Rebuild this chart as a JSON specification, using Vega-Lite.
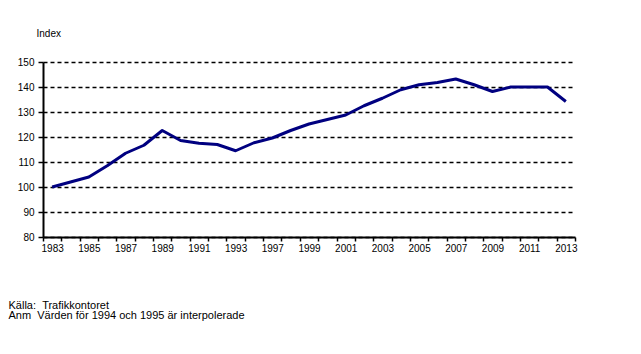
{
  "$schema": "https://vega.github.io/schema/vega-lite/v6.json",
  "width": 532,
  "height": 175,
  "autosize": "none",
  "padding": {"left": 43, "top": 62, "right": 66, "bottom": 117},
  "background": "white",
  "config": {
    "view": {"stroke": null},
    "font": "Liberation Sans",
    "axis": {"labelFont": "Liberation Sans", "titleFont": "Liberation Sans", "labelColor": "black", "titleColor": "black"}
  },
  "data": {
    "values": [
      {"year": "1983", "index": 100},
      {"year": "1984", "index": 102},
      {"year": "1985", "index": 104},
      {"year": "1986", "index": 108.5},
      {"year": "1987", "index": 113.5},
      {"year": "1988", "index": 116.7},
      {"year": "1989", "index": 122.6},
      {"year": "1990", "index": 118.6},
      {"year": "1991", "index": 117.5},
      {"year": "1992", "index": 117},
      {"year": "1993", "index": 114.5},
      {"year": "1995", "index": 117.7},
      {"year": "1997", "index": 119.6},
      {"year": "1998", "index": 122.6},
      {"year": "1999", "index": 125.2},
      {"year": "2000", "index": 127},
      {"year": "2001", "index": 128.8},
      {"year": "2002", "index": 132.5},
      {"year": "2003", "index": 135.5},
      {"year": "2004", "index": 138.9},
      {"year": "2005", "index": 140.9},
      {"year": "2006", "index": 141.8},
      {"year": "2007", "index": 143.2},
      {"year": "2008", "index": 140.9},
      {"year": "2009", "index": 138.2},
      {"year": "2010", "index": 140},
      {"year": "2011", "index": 140},
      {"year": "2012", "index": 140},
      {"year": "2013", "index": 134.2}
    ]
  },
  "mark": {"type": "line", "color": "#000080", "strokeWidth": 3, "strokeJoin": "round"},
  "encoding": {
    "x": {
      "field": "year",
      "type": "ordinal",
      "bandPosition": 0.5,
      "scale": {"type": "band", "paddingInner": 0, "paddingOuter": 0},
      "axis": {
        "title": ["Källa:\u00a0\u00a0Trafikkontoret", "Anm\u00a0\u00a0Värden för 1994 och 1995 är interpolerade"],
        "titleFontSize": 11,
        "titleFontWeight": "normal",
        "titleLineHeight": 10.5,
        "titleAlign": "left",
        "titleAnchor": "start",
        "titleBaseline": "top",
        "titleX": -35,
        "titleY": 62,
        "labelAngle": 0,
        "labelFontSize": 10,
        "labelPadding": 2,
        "labelExpr": "(toNumber(datum.label) % 2 == 1 && datum.label != '1995') ? datum.label : ''",
        "tickBand": "extent",
        "tickColor": "black",
        "tickWidth": 1.5,
        "tickSize": 4,
        "domainColor": "black",
        "domainWidth": 2,
        "grid": false
      }
    },
    "y": {
      "field": "index",
      "type": "quantitative",
      "scale": {"domain": [80, 150], "nice": false, "zero": false},
      "axis": {
        "values": [80, 90, 100, 110, 120, 130, 140, 150],
        "title": "Index",
        "titleAngle": 0,
        "titleFontSize": 10,
        "titleFontWeight": "normal",
        "titleAlign": "left",
        "titleBaseline": "alphabetic",
        "titleX": -7,
        "titleY": -26,
        "labelFontSize": 10,
        "labelPadding": 4,
        "tickColor": "black",
        "tickWidth": 1.5,
        "tickSize": 5,
        "domainColor": "black",
        "domainWidth": 2,
        "grid": true,
        "gridColor": "black",
        "gridWidth": 1.5,
        "gridDash": [4, 3],
        "gridOpacity": 1
      }
    }
  }
}
